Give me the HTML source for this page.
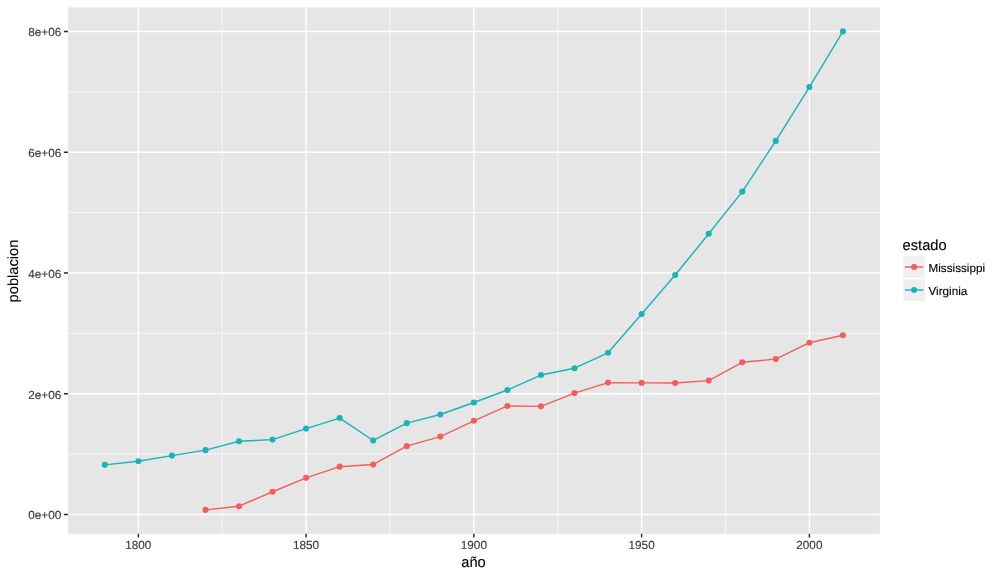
<!DOCTYPE html>
<html lang="es"><head><meta charset="utf-8"><title>poblacion por año</title>
<style>
html,body{margin:0;padding:0;background:#fff;}
body{width:1000px;height:574px;overflow:hidden;}
svg{display:block;text-rendering:geometricPrecision;font-family:"Liberation Sans",Arial,Helvetica,sans-serif;}
</style></head><body>
<svg width="1000" height="574" viewBox="0 0 1000 574">
<rect width="1000" height="574" fill="#fff"/>
<rect x="67.9" y="7.46" width="811.94" height="526.36" fill="#E6E6E6"/>
<path d="M222.24 7.46V533.82M389.99 7.46V533.82M557.75 7.46V533.82M725.50 7.46V533.82M67.9 454.07H879.84M67.9 333.32H879.84M67.9 212.57H879.84M67.9 91.82H879.84" stroke="#fff" stroke-width="0.71" fill="none"/>
<path d="M138.36 7.46V533.82M306.11 7.46V533.82M473.87 7.46V533.82M641.63 7.46V533.82M809.38 7.46V533.82M67.9 514.45H879.84M67.9 393.70H879.84M67.9 272.95H879.84M67.9 152.20H879.84M67.9 31.45H879.84" stroke="#fff" stroke-width="1.42" fill="none"/>
<polyline points="205.46,509.89 239.01,506.20 272.56,491.77 306.11,477.83 339.67,466.67 373.22,464.46 406.77,446.13 440.32,436.59 473.87,420.79 507.42,405.95 540.97,406.34 574.52,393.11 608.07,382.60 641.63,382.90 675.18,382.94 708.73,380.60 742.28,362.27 775.83,359.09 809.38,342.70 842.93,335.30" fill="none" stroke="#F15E5C" stroke-width="1.42" stroke-linejoin="round"/><g fill="#F15E5C"><circle cx="205.46" cy="509.89" r="3.05"/><circle cx="239.01" cy="506.20" r="3.05"/><circle cx="272.56" cy="491.77" r="3.05"/><circle cx="306.11" cy="477.83" r="3.05"/><circle cx="339.67" cy="466.67" r="3.05"/><circle cx="373.22" cy="464.46" r="3.05"/><circle cx="406.77" cy="446.13" r="3.05"/><circle cx="440.32" cy="436.59" r="3.05"/><circle cx="473.87" cy="420.79" r="3.05"/><circle cx="507.42" cy="405.95" r="3.05"/><circle cx="540.97" cy="406.34" r="3.05"/><circle cx="574.52" cy="393.11" r="3.05"/><circle cx="608.07" cy="382.60" r="3.05"/><circle cx="641.63" cy="382.90" r="3.05"/><circle cx="675.18" cy="382.94" r="3.05"/><circle cx="708.73" cy="380.60" r="3.05"/><circle cx="742.28" cy="362.27" r="3.05"/><circle cx="775.83" cy="359.09" r="3.05"/><circle cx="809.38" cy="342.70" r="3.05"/><circle cx="842.93" cy="335.30" r="3.05"/></g>
<polyline points="104.81,464.86 138.36,461.31 171.91,455.61 205.46,450.13 239.01,441.31 272.56,439.60 306.11,428.62 339.67,418.07 373.22,440.48 406.77,423.13 440.32,414.47 473.87,402.50 507.42,389.98 540.97,375.03 574.52,368.23 608.07,352.78 641.63,314.08 675.18,274.94 708.73,233.80 742.28,191.63 775.83,140.89 809.38,87.08 842.93,31.39" fill="none" stroke="#1AB3B9" stroke-width="1.42" stroke-linejoin="round"/><g fill="#1AB3B9"><circle cx="104.81" cy="464.86" r="3.05"/><circle cx="138.36" cy="461.31" r="3.05"/><circle cx="171.91" cy="455.61" r="3.05"/><circle cx="205.46" cy="450.13" r="3.05"/><circle cx="239.01" cy="441.31" r="3.05"/><circle cx="272.56" cy="439.60" r="3.05"/><circle cx="306.11" cy="428.62" r="3.05"/><circle cx="339.67" cy="418.07" r="3.05"/><circle cx="373.22" cy="440.48" r="3.05"/><circle cx="406.77" cy="423.13" r="3.05"/><circle cx="440.32" cy="414.47" r="3.05"/><circle cx="473.87" cy="402.50" r="3.05"/><circle cx="507.42" cy="389.98" r="3.05"/><circle cx="540.97" cy="375.03" r="3.05"/><circle cx="574.52" cy="368.23" r="3.05"/><circle cx="608.07" cy="352.78" r="3.05"/><circle cx="641.63" cy="314.08" r="3.05"/><circle cx="675.18" cy="274.94" r="3.05"/><circle cx="708.73" cy="233.80" r="3.05"/><circle cx="742.28" cy="191.63" r="3.05"/><circle cx="775.83" cy="140.89" r="3.05"/><circle cx="809.38" cy="87.08" r="3.05"/><circle cx="842.93" cy="31.39" r="3.05"/></g>
<path d="M138.36 533.82v3.7M306.11 533.82v3.7M473.87 533.82v3.7M641.63 533.82v3.7M809.38 533.82v3.7M67.9 514.45h-4.0M67.9 393.70h-4.0M67.9 272.95h-4.0M67.9 152.20h-4.0M67.9 31.45h-4.0" stroke="#262626" stroke-width="1.42" fill="none"/>
<g font-size="11.73" fill="#3D3D3D" stroke="#3D3D3D" stroke-width="0.15" text-anchor="middle"><text x="138.36" y="549.1">1800</text><text x="306.11" y="549.1">1850</text><text x="473.87" y="549.1">1900</text><text x="641.63" y="549.1">1950</text><text x="809.38" y="549.1">2000</text></g>
<g font-size="11.73" fill="#3D3D3D" stroke="#3D3D3D" stroke-width="0.15" text-anchor="end"><text x="61.2" y="519.45">0e+00</text><text x="61.2" y="398.70">2e+06</text><text x="61.2" y="277.95">4e+06</text><text x="61.2" y="157.20">6e+06</text><text x="61.2" y="36.45">8e+06</text></g>
<text x="473.52" y="567" font-size="14.67" text-anchor="middle" fill="#000" stroke="#000" stroke-width="0.12">año</text>
<text transform="translate(17.9 271.04) rotate(-90)" font-size="14.67" text-anchor="middle" fill="#000" stroke="#000" stroke-width="0.12">poblacion</text>
<text x="902.6" y="249.6" font-size="14.67" fill="#000" stroke="#000" stroke-width="0.12">estado</text>
<rect x="902.6" y="255.50" width="23.04" height="23.04" fill="#EFEFEF" stroke="#fff" stroke-width="1.42"/>
<path d="M904.90 267.02h18.44" stroke="#F15E5C" stroke-width="1.42"/>
<circle cx="914.12" cy="267.02" r="3.05" fill="#F15E5C"/>
<text x="928.45" y="272.27" font-size="11.73" fill="#000" stroke="#000" stroke-width="0.12">Mississippi</text>
<rect x="902.6" y="278.54" width="23.04" height="23.04" fill="#EFEFEF" stroke="#fff" stroke-width="1.42"/>
<path d="M904.90 290.06h18.44" stroke="#1AB3B9" stroke-width="1.42"/>
<circle cx="914.12" cy="290.06" r="3.05" fill="#1AB3B9"/>
<text x="928.45" y="295.31" font-size="11.73" fill="#000" stroke="#000" stroke-width="0.12">Virginia</text>
</svg>
</body></html>
